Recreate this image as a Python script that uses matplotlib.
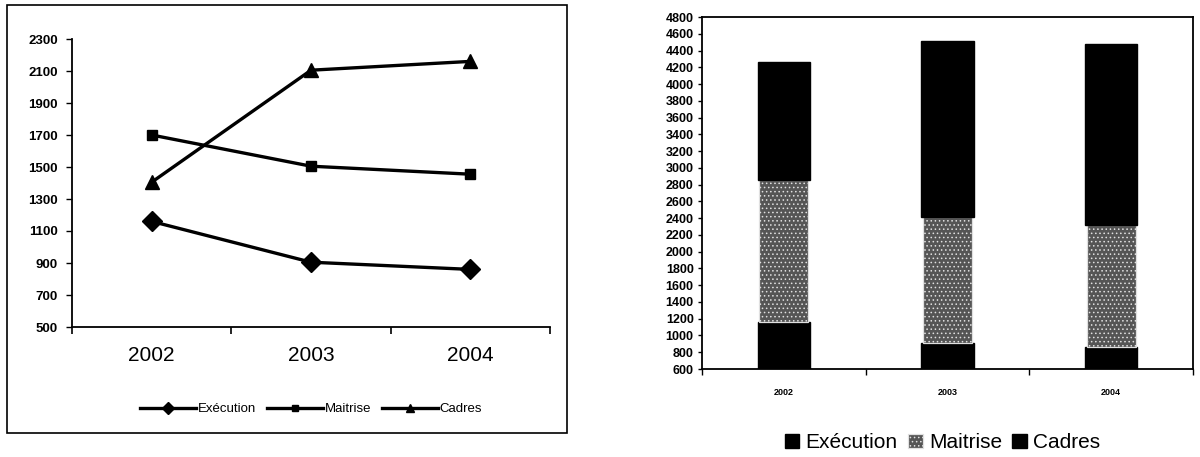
import matplotlib
matplotlib.use("Agg")
import matplotlib.pyplot as plt
from matplotlib.patches import Rectangle
import numpy as np

plt.rcParams['font.family'] = ['Liberation Sans', 'DejaVu Sans']
plt.rcParams['hatch.linewidth'] = 0.6

# Effectifs par catégorie
years = ["2002", "2003", "2004"]
execution = [1160, 905, 860]
maitrise = [1700, 1505, 1455]
cadres = [1405, 2105, 2160]

line_labels = ["Exécution", "Maitrise", "Cadres"]
bar_labels = ["Exécution", "Maitrise", "Cadres"]

left_yticks = [500, 700, 900, 1100, 1300, 1500, 1700, 1900, 2100, 2300]
right_yticks = list(range(600, 4801, 200))

W, H = 1200, 457
fig = plt.figure(figsize=(W / 100, H / 100), dpi=100)

def fx(px):
    return px / W

def fy(py):
    return 1 - py / H

x = np.arange(len(years))

# ---- Courbes ----
ax1 = fig.add_axes([fx(72), fy(327), fx(550) - fx(72), fy(39) - fy(327)])
ax1.plot(x, execution, color='black', lw=2.4, marker='D', ms=10, label=line_labels[0])
ax1.plot(x, maitrise, color='black', lw=2.4, marker='s', ms=7.5, label=line_labels[1])
ax1.plot(x, cadres, color='black', lw=2.4, marker='^', ms=10, label=line_labels[2])
ax1.set_xlim(-0.5, 2.5)
ax1.set_ylim(500, 2300)
ax1.set_yticks(left_yticks)
ax1.set_yticklabels([str(v) for v in left_yticks], fontsize=9.5, fontweight='bold')
ax1.set_xticks(x)
ax1.set_xticklabels(years, fontsize=15)
ax1.set_xticks([-0.5, 0.5, 1.5, 2.5], minor=True)
ax1.tick_params(axis='x', which='major', length=0, pad=14)
ax1.tick_params(axis='x', which='minor', length=5, direction='out', width=1.2)
ax1.tick_params(axis='y', length=4, direction='out', width=1.0, pad=6)
for s in ['top', 'right']:
    ax1.spines[s].set_visible(False)
for s in ['left', 'bottom']:
    ax1.spines[s].set_linewidth(1.3)
leg1 = ax1.legend(loc='center', bbox_to_anchor=(0.5, -0.285), ncol=3, frameon=False,
                  fontsize=9.5, handlelength=4.3, columnspacing=0.8, handletextpad=0.1,
                  markerscale=0.6)

fig.patches.append(Rectangle((fx(7), fy(433)), fx(567) - fx(7), fy(5) - fy(433),
                             transform=fig.transFigure, fill=False, edgecolor='black',
                             lw=1.2))

# ---- Barres empilées ----
ax2 = fig.add_axes([fx(702), fy(369), fx(1193) - fx(702), fy(17) - fy(369)])
bw = 0.32
b1 = ax2.bar(x, execution, bw, color='black', edgecolor='black', label=bar_labels[0])
bottom2 = np.array(execution)
b2 = ax2.bar(x, maitrise, bw * 0.94, bottom=bottom2, color='#555555', edgecolor='#e0e0e0',
             hatch='....', lw=0.9, label=bar_labels[1])
bottom3 = bottom2 + np.array(maitrise)
b3 = ax2.bar(x, cadres, bw, bottom=bottom3, color='black', edgecolor='black',
             label=bar_labels[2])
ax2.set_xlim(-0.5, 2.5)
ax2.set_ylim(600, 4800)
ax2.set_yticks(right_yticks)
ax2.set_yticklabels([str(v) for v in right_yticks], fontsize=9, fontweight='bold')
ax2.set_xticks(x)
ax2.set_xticklabels(years, fontsize=6.5, fontweight='bold')
ax2.set_xticks([-0.5, 0.5, 1.5, 2.5], minor=True)
ax2.tick_params(axis='x', which='major', length=0, pad=14)
ax2.tick_params(axis='x', which='minor', length=4, direction='out', width=1.0)
ax2.tick_params(axis='y', length=3, direction='out', width=1.0, pad=3)
for s in ax2.spines.values():
    s.set_linewidth(1.3)
leg2 = ax2.legend(loc='center', bbox_to_anchor=(0.49, -0.21), ncol=3, frameon=False,
                  fontsize=15, handlelength=0.7, handleheight=0.7,
                  columnspacing=0.5, handletextpad=0.3)

fig.savefig("out.png", dpi=100, facecolor='white')
